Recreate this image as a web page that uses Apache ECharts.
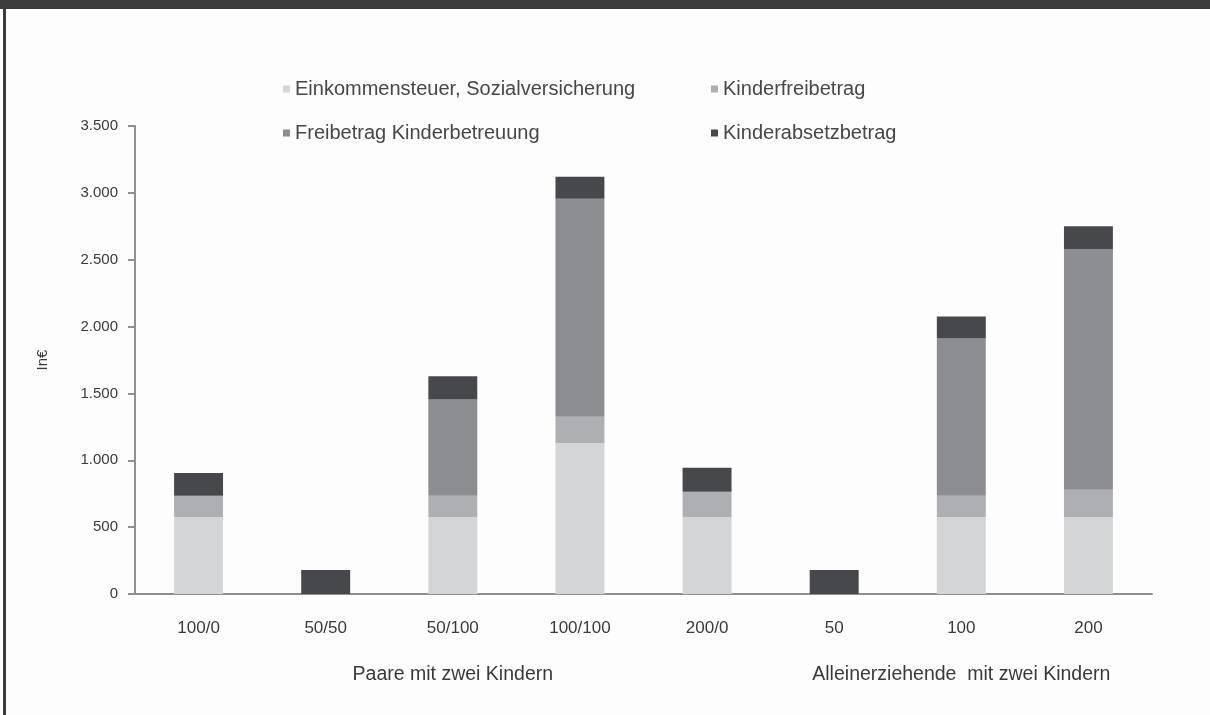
<!DOCTYPE html>
<html>
<head>
<meta charset="utf-8">
<script src="https://cdn.jsdelivr.net/npm/echarts@6/dist/echarts.min.js"></script>
<style>
  html, body { margin: 0; padding: 0; background: #fff; }
  #topbar { position: absolute; left: 0; top: 0; width: 1210px; height: 9px; background: #3c3c3c; }
  #leftbar { position: absolute; left: 3px; top: 0; width: 3px; height: 715px; background: #3c3c3c; }
  #chart { position: absolute; left: 0; top: 0; width: 1210px; height: 715px; }
</style>
</head>
<body>
<div id="chart"></div>
<div id="topbar"></div>
<div id="leftbar"></div>
<script>
var categories = ['100/0', '50/50', '50/100', '100/100', '200/0', '50', '100', '200'];
var groupLabels = ['', '', 'Paare mit zwei Kindern', '', '', '', 'Alleinerziehende  mit zwei Kindern', ''];
var seriesNames = ['Einkommensteuer, Sozialversicherung', 'Kinderfreibetrag', 'Freibetrag Kinderbetreuung', 'Kinderabsetzbetrag'];

var einkommensteuer = [575, 0, 575, 1130, 575, 0, 575, 575];
var kinderfreibetrag = [160, 0, 160, 195, 190, 0, 160, 205];
var freibetragBetreuung = [0, 0, 720, 1630, 0, 0, 1175, 1800];
var kinderabsetzbetrag = [170, 180, 173, 165, 180, 180, 165, 170];

var colors = ['#d4d5d7', '#aeafb2', '#8c8d90', '#47484b'];
var font = 'Liberation Sans, Arial, sans-serif';

var myChart = echarts.init(document.getElementById('chart'));

function bar(name, data, color) {
  return {
    name: name,
    type: 'bar',
    stack: 'total',
    barWidth: '38.5%',
    data: data,
    itemStyle: { color: color },
    emphasis: { disabled: true }
  };
}

// one legend per entry, placed like the original 2x2 block
function legendAt(name, left, top) {
  return {
    data: [name],
    left: left, top: top,
    icon: 'rect', itemWidth: 7, itemHeight: 7,
    textStyle: { fontFamily: font, fontSize: 20, color: '#474747' }
  };
}

myChart.setOption({
  animation: false,
  backgroundColor: '#fdfdfd',
  grid: { left: 135, right: 58, top: 126, bottom: 121 },
  legend: [
    legendAt(seriesNames[0], 278, 74),
    legendAt(seriesNames[1], 706, 74),
    legendAt(seriesNames[2], 278, 118),
    legendAt(seriesNames[3], 706, 118)
  ],
  xAxis: [
    {
      type: 'category',
      data: categories,
      axisTick: { show: false },
      axisLine: { lineStyle: { color: '#8e8f92', width: 2 } },
      axisLabel: { margin: 26, fontFamily: font, fontSize: 17, color: '#3a3a3a' }
    },
    {
      type: 'category',
      data: groupLabels,
      position: 'bottom',
      axisTick: { show: false },
      axisLine: { show: false },
      axisLabel: { margin: 71, interval: 0, fontFamily: font, fontSize: 19.5, color: '#3a3a3a' }
    }
  ],
  yAxis: {
    type: 'value',
    min: 0, max: 3500, interval: 500,
    name: 'In€',
    nameLocation: 'middle',
    nameGap: 85,
    nameRotate: 90,
    nameTextStyle: { fontFamily: font, fontSize: 15, color: '#3a3a3a' },
    axisLine: { show: true, lineStyle: { color: '#8e8f92', width: 2 } },
    axisTick: { show: true, length: 7, lineStyle: { color: '#8e8f92', width: 2 } },
    splitLine: { show: false },
    axisLabel: {
      margin: 17, fontFamily: font, fontSize: 15, color: '#3a3a3a',
      formatter: function (v) { return v.toLocaleString('de-DE'); }
    }
  },
  series: [
    bar(seriesNames[0], einkommensteuer, colors[0]),
    bar(seriesNames[1], kinderfreibetrag, colors[1]),
    bar(seriesNames[2], freibetragBetreuung, colors[2]),
    bar(seriesNames[3], kinderabsetzbetrag, colors[3])
  ]
});
</script>
</body>
</html>
